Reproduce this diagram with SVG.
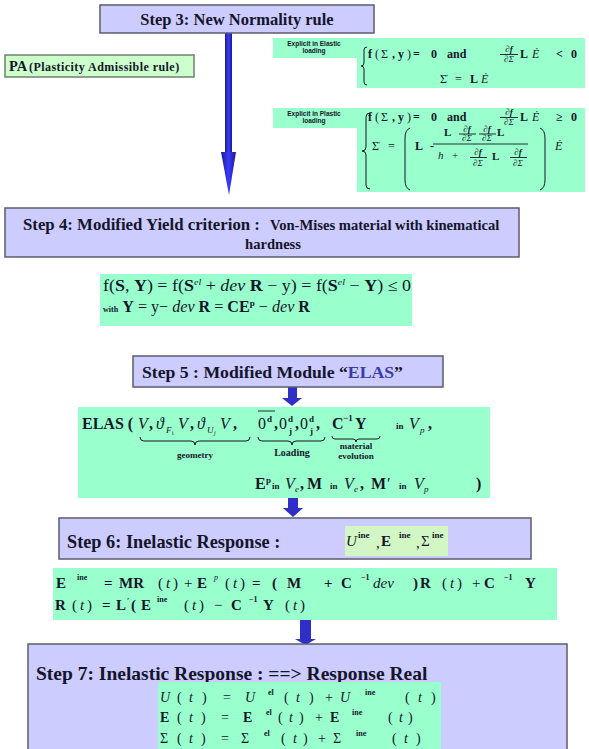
<svg xmlns="http://www.w3.org/2000/svg" width="589" height="749" viewBox="0 0 589 749">
<defs>
<style>
.step{fill:#ccccff;stroke:#5c5c6e;stroke-width:1.5}
.grn{fill:#99ffcc}
.pa{fill:#ccffcc;stroke:#6f806f;stroke-width:1.5}
text{font-family:"Liberation Serif","Times New Roman",serif;font-weight:bold;fill:#15152a}
.it{font-style:italic}
.n{font-weight:normal}
.lbl{font-family:"Liberation Sans",Arial,sans-serif;font-size:6.5px;text-anchor:middle}
.br{fill:none;stroke:#15152a;stroke-width:1}
.bar{stroke:#15152a;stroke-width:0.9}
.arr{fill:#2f2fc8}
.m{text-anchor:middle}
</style>
<linearGradient id="shaft" x1="0" x2="1" y1="0" y2="0">
<stop offset="0" stop-color="#1c1c8c"/><stop offset="0.5" stop-color="#3a3aff"/><stop offset="1" stop-color="#1c1c8c"/>
</linearGradient>
</defs>
<rect x="0" y="0" width="589" height="749" fill="#ffffff"/>

<g id="connectors">
<rect x="225" y="33" width="7" height="120" fill="url(#shaft)"/>
<path d="M221,152 L236,152 L229,195 Z" fill="url(#shaft)"/>
<path class="arr" d="M288,387 h9 v11 h5 l-10,8 l-10,-8 h6 z"/>
<path class="arr" d="M288,498 h10 v10 h5 l-10,9 l-10,-9 h5 z"/>
<path class="arr" d="M300,620 h11 v19 h5 l-10.5,6 l-10.5,-6 h5 z"/>
</g>

<g id="step3">
<rect class="step" x="100" y="5" width="274" height="28"/>
<text x="237" y="25" font-size="16.5" class="m">Step 3: New Normality rule</text>
</g>

<g id="pa">
<rect class="pa" x="5" y="55" width="189" height="22"/>
<text x="9" y="71" font-size="14.5">PA</text>
<text x="29" y="71" font-size="12" letter-spacing="0.45">(Plasticity Admissible rule)</text>
</g>

<g id="elastic">
<rect class="grn" x="273" y="38" width="84" height="20"/>
<rect class="grn" x="357" y="38" width="228" height="50"/>
<text class="lbl" x="314" y="46">Explicit in Elastic</text>
<text class="lbl" x="314" y="53">loading</text>
<path class="br" d="M367,47 q-3,0 -3,3 v13 q0,3 -3,3 q3,0 3,3 v13 q0,3 3,3"/>
<text y="58" font-size="12"><tspan x="368">f</tspan><tspan x="375" class="n">(</tspan><tspan x="381" class="n">Σ</tspan><tspan x="392">,</tspan><tspan x="398">y</tspan><tspan x="407" class="n">)</tspan><tspan x="413">=</tspan><tspan x="431">0</tspan><tspan x="447">and</tspan></text>
<text x="509" y="52" font-size="9" class="it m">∂f</text>
<line class="bar" x1="500" y1="54.5" x2="518" y2="54.5"/>
<text x="509" y="62" font-size="9" class="it m n">∂Σ</text>
<text x="520" y="58" font-size="12">L</text>
<text x="532" y="58" font-size="12" class="it n">Ė</text>
<text x="556" y="58" font-size="12">&lt;</text>
<text x="571" y="58" font-size="12">0</text>
<text x="440" y="83" font-size="12" class="n">Σ̇</text>
<text x="455" y="83" font-size="12" class="n">=</text>
<text x="470" y="83" font-size="12">L</text>
<text x="481" y="83" font-size="12" class="it n">Ė</text>
</g>

<g id="plastic">
<rect class="grn" x="273" y="108" width="84" height="20"/>
<rect class="grn" x="357" y="108" width="228" height="84"/>
<text class="lbl" x="314" y="116">Explicit in Plastic</text>
<text class="lbl" x="314" y="123">loading</text>
<path class="br" d="M370,113 q-4,0 -4,4 v30 q0,4 -4,4 q4,0 4,4 v30 q0,4 4,4"/>
<text y="121" font-size="12"><tspan x="368">f</tspan><tspan x="375" class="n">(</tspan><tspan x="381" class="n">Σ</tspan><tspan x="392">,</tspan><tspan x="398">y</tspan><tspan x="407" class="n">)</tspan><tspan x="413">=</tspan><tspan x="431">0</tspan><tspan x="447">and</tspan></text>
<text x="509" y="115" font-size="9" class="it m">∂f</text>
<line class="bar" x1="500" y1="117.5" x2="518" y2="117.5"/>
<text x="509" y="125" font-size="9" class="it m n">∂Σ</text>
<text x="520" y="121" font-size="12">L</text>
<text x="532" y="121" font-size="12" class="it n">Ė</text>
<text x="556" y="121" font-size="12">≥</text>
<text x="571" y="121" font-size="12">0</text>
<text x="372" y="150" font-size="12" class="n">Σ̇</text>
<text x="388" y="150" font-size="12" class="n">=</text>
<path class="br" d="M410,128 q-5,2 -5,10 v42 q0,8 5,10"/>
<text x="415" y="150" font-size="12">L</text>
<text x="430" y="150" font-size="12">-</text>
<text x="444" y="136" font-size="11">L</text>
<text x="467" y="132" font-size="9" class="it m">∂f</text>
<line class="bar" x1="459" y1="134" x2="476" y2="134"/>
<text x="467" y="141" font-size="9" class="it m n">∂Σ</text>
<text x="487" y="132" font-size="9" class="it m">∂f</text>
<line class="bar" x1="479" y1="134" x2="496" y2="134"/>
<text x="487" y="141" font-size="9" class="it m n">∂Σ</text>
<text x="497" y="136" font-size="11">L</text>
<line class="bar" x1="433" y1="144" x2="528" y2="144"/>
<text x="438" y="159" font-size="11" class="it n">h</text>
<text x="452" y="159" font-size="11" class="n">+</text>
<text x="478" y="155" font-size="9" class="it m">∂f</text>
<line class="bar" x1="470" y1="157.5" x2="487" y2="157.5"/>
<text x="478" y="166" font-size="9" class="it m n">∂Σ</text>
<text x="492" y="160" font-size="11">L</text>
<text x="518" y="155" font-size="9" class="it m">∂f</text>
<line class="bar" x1="510" y1="157.5" x2="527" y2="157.5"/>
<text x="518" y="166" font-size="9" class="it m n">∂Σ</text>
<path class="br" d="M540,128 q5,2 5,10 v42 q0,8 -5,10"/>
<text x="555" y="150" font-size="12" class="it n">Ė</text>
</g>

<g id="step4">
<rect class="step" x="5" y="208" width="514" height="49"/>
<text x="23" y="230" font-size="16.8">Step 4: Modified Yield criterion :</text>
<text x="270" y="230" font-size="14.6">Von-Mises material with kinematical</text>
<text x="273" y="249" font-size="14.6" class="m">hardness</text>
</g>

<g id="yield">
<rect class="grn" x="100" y="274" width="312" height="52"/>
<text x="103" y="291" font-size="16" class="n" textLength="308" lengthAdjust="spacingAndGlyphs">f(<tspan font-weight="bold">S</tspan>, <tspan font-weight="bold">Y</tspan>) = f(<tspan font-weight="bold">S</tspan><tspan font-size="9" dy="-6" class="it">el</tspan><tspan dy="6"> + </tspan><tspan class="it">dev</tspan> <tspan font-weight="bold">R</tspan> − y) = f(<tspan font-weight="bold">S</tspan><tspan font-size="9" dy="-6" class="it">el</tspan><tspan dy="6"> − </tspan><tspan font-weight="bold">Y</tspan>) ≤ 0</text>
<text x="103" y="312" font-size="16" class="n" textLength="207" lengthAdjust="spacingAndGlyphs"><tspan font-size="8" font-weight="bold">with</tspan> <tspan font-weight="bold">Y</tspan> = y− <tspan class="it">dev</tspan> <tspan font-weight="bold">R</tspan> = <tspan font-weight="bold">CE</tspan><tspan font-size="9" dy="-6" font-weight="bold">p</tspan><tspan dy="6"> − </tspan><tspan class="it">dev</tspan> <tspan font-weight="bold">R</tspan></text>
</g>

<g id="step5">
<rect class="step" x="133" y="356" width="310" height="31"/>
<text x="142" y="378" font-size="17.7">Step 5 : Modified Module “<tspan fill="#3a3aa8">ELAS</tspan>”</text>
</g>

<g id="elas">
<rect class="grn" x="78" y="407" width="412" height="91"/>
<text y="429" font-size="16">
<tspan x="82">ELAS (</tspan><tspan x="138" class="it n">V</tspan><tspan x="149">,</tspan><tspan x="156" class="it n">ϑ</tspan><tspan x="166" y="433" font-size="9" class="it n">F</tspan><tspan x="172" y="435" font-size="6" class="n">i</tspan><tspan x="178" y="429" class="it n">V</tspan><tspan x="190">,</tspan><tspan x="197" class="it n">ϑ</tspan><tspan x="207" y="433" font-size="9" class="it n">U</tspan><tspan x="214" y="435" font-size="6" class="it n">j</tspan><tspan x="220" y="429" class="it n">V</tspan><tspan x="233">,</tspan><tspan x="258" class="n">0</tspan><tspan x="267" y="422" font-size="9">d</tspan><tspan x="274" y="429">,</tspan><tspan x="279" class="n">0</tspan><tspan x="288" y="422" font-size="9">d</tspan><tspan x="289" y="434" font-size="9">j</tspan><tspan x="295" y="429">,</tspan><tspan x="300" class="n">0</tspan><tspan x="309" y="422" font-size="9">d</tspan><tspan x="310" y="434" font-size="9">j</tspan><tspan x="316" y="429">,</tspan><tspan x="332">C</tspan><tspan x="343" y="421" font-size="9">−1</tspan><tspan x="355" y="429">Y</tspan><tspan x="396" font-size="9">in</tspan><tspan x="409" class="it n">V</tspan><tspan x="420" y="433" font-size="9" class="it n">p</tspan><tspan x="428" y="429">,</tspan>
</text>
<line class="bar" x1="258" y1="411" x2="275" y2="411"/>
<path class="br" d="M140,437 q0,4 4,4 h47 q4,0 4,4 q0,-4 4,-4 h47 q4,0 4,-4"/>
<path class="br" d="M258,437 q0,4 4,4 h26 q4,0 4,4 q0,-4 4,-4 h25 q4,0 4,-4"/>
<path class="br" d="M332,436 q0,3 3,3 h18 q3,0 3,3 q0,-3 3,-3 h18 q3,0 3,-3"/>
<text x="195" y="458" font-size="9" class="m">geometry</text>
<text x="292" y="456" font-size="10" class="m">Loading</text>
<text x="356" y="449" font-size="9" class="m">material</text>
<text x="356" y="459" font-size="9" class="m">evolution</text>
<text y="489" font-size="16">
<tspan x="255">E</tspan><tspan x="266" y="483" font-size="9">p</tspan><tspan x="272" y="489" font-size="9">in</tspan><tspan x="285" class="it n">V</tspan><tspan x="295" y="492" font-size="9" class="it n">e</tspan><tspan x="300" y="489">,</tspan><tspan x="307">M</tspan><tspan x="330" font-size="9">in</tspan><tspan x="344" class="it n">V</tspan><tspan x="354" y="492" font-size="9" class="it n">e</tspan><tspan x="360" y="489">,</tspan><tspan x="371">M</tspan><tspan x="387" class="n">′</tspan><tspan x="399" font-size="9">in</tspan><tspan x="414" class="it n">V</tspan><tspan x="424" y="492" font-size="9" class="it n">p</tspan><tspan x="476" y="489">)</tspan>
</text>
</g>

<g id="step6">
<rect class="step" x="59" y="518" width="472" height="41"/>
<text x="67" y="548" font-size="18.3">Step 6: Inelastic Response :</text>
<rect x="345" y="526" width="103" height="30" fill="#d2f7c4"/>
<text y="546" font-size="15">
<tspan x="346" class="it n">U</tspan><tspan x="358" y="538" font-size="9">ine</tspan><tspan x="376" y="548" class="n">,</tspan><tspan x="381" y="546">E</tspan><tspan x="399" y="538" font-size="9">ine</tspan><tspan x="416" y="548" class="n">,</tspan><tspan x="421" y="546" class="n">Σ</tspan><tspan x="432" y="538" font-size="9">ine</tspan>
</text>
</g>

<g id="inelastic">
<rect class="grn" x="53" y="568" width="504" height="52"/>
<text y="588" font-size="15">
<tspan x="56">E</tspan><tspan x="77" y="580" font-size="8">ine</tspan><tspan x="104" y="588">=</tspan><tspan x="119">MR</tspan><tspan x="158" class="n">(</tspan><tspan x="166" class="it n">t</tspan><tspan x="173" class="n">)</tspan><tspan x="184" class="n">+</tspan><tspan x="197">E</tspan><tspan x="214" y="580" font-size="8" class="it n">p</tspan><tspan x="225" y="588" class="n">(</tspan><tspan x="233" class="it n">t</tspan><tspan x="240" class="n">)</tspan><tspan x="252">=</tspan><tspan x="272">(</tspan><tspan x="287">M</tspan><tspan x="324">+</tspan><tspan x="341">C</tspan><tspan x="361" y="580" font-size="8">−1</tspan><tspan x="373" y="588" class="it n">dev</tspan><tspan x="413">)</tspan><tspan x="420">R</tspan><tspan x="442" class="n">(</tspan><tspan x="450" class="it n">t</tspan><tspan x="457" class="n">)</tspan><tspan x="472" class="n">+</tspan><tspan x="484">C</tspan><tspan x="504" y="580" font-size="8">−1</tspan><tspan x="525" y="588">Y</tspan>
</text>
<text y="610" font-size="15">
<tspan x="55">R</tspan><tspan x="72" class="n">(</tspan><tspan x="80" class="it n">t</tspan><tspan x="87" class="n">)</tspan><tspan x="102">=</tspan><tspan x="116">L</tspan><tspan x="127" y="604" font-size="8">′</tspan><tspan x="131" y="610">(</tspan><tspan x="141">E</tspan><tspan x="157" y="602" font-size="8">ine</tspan><tspan x="184" y="610" class="n">(</tspan><tspan x="192" class="it n">t</tspan><tspan x="199" class="n">)</tspan><tspan x="214" class="n">−</tspan><tspan x="231">C</tspan><tspan x="249" y="602" font-size="8">−1</tspan><tspan x="263" y="610">Y</tspan><tspan x="285" class="n">(</tspan><tspan x="293" class="it n">t</tspan><tspan x="300" class="n">)</tspan>
</text>
</g>

<g id="step7">
<rect class="step" x="28" y="644" width="539" height="112"/>
<text x="36" y="680" font-size="19.5">Step 7: Inelastic Response : ==&gt; Response Real</text>
<rect class="grn" x="158" y="682" width="283" height="70"/>
<text y="702" font-size="14" class="n">
<tspan x="160" class="it">U</tspan><tspan x="177">(</tspan><tspan x="189" class="it">t</tspan><tspan x="202">)</tspan><tspan x="223">=</tspan><tspan x="245" class="it">U</tspan><tspan x="268" y="695" font-size="8" font-weight="bold">el</tspan><tspan x="284" y="702">(</tspan><tspan x="296" class="it">t</tspan><tspan x="309">)</tspan><tspan x="325">+</tspan><tspan x="340" class="it">U</tspan><tspan x="365" y="695" font-size="8" font-weight="bold">ine</tspan><tspan x="405" y="702">(</tspan><tspan x="418" class="it">t</tspan><tspan x="431">)</tspan>
</text>
<text y="722" font-size="14" class="n">
<tspan x="160" font-weight="bold">E</tspan><tspan x="177">(</tspan><tspan x="189" class="it">t</tspan><tspan x="201">)</tspan><tspan x="221">=</tspan><tspan x="243" font-weight="bold">E</tspan><tspan x="266" y="715" font-size="8" font-weight="bold">el</tspan><tspan x="278" y="722">(</tspan><tspan x="289" class="it">t</tspan><tspan x="299">)</tspan><tspan x="315">+</tspan><tspan x="330" font-weight="bold">E</tspan><tspan x="352" y="715" font-size="8" font-weight="bold">ine</tspan><tspan x="388" y="722">(</tspan><tspan x="399" class="it">t</tspan><tspan x="408">)</tspan>
</text>
<text y="743" font-size="14" class="n">
<tspan x="160">Σ</tspan><tspan x="177">(</tspan><tspan x="189" class="it">t</tspan><tspan x="201">)</tspan><tspan x="221">=</tspan><tspan x="241">Σ</tspan><tspan x="264" y="736" font-size="8" font-weight="bold">el</tspan><tspan x="281" y="743">(</tspan><tspan x="293" class="it">t</tspan><tspan x="303">)</tspan><tspan x="318">+</tspan><tspan x="333">Σ</tspan><tspan x="356" y="736" font-size="8" font-weight="bold">ine</tspan><tspan x="392" y="743">(</tspan><tspan x="404" class="it">t</tspan><tspan x="416">)</tspan>
</text>
</g>
</svg>
